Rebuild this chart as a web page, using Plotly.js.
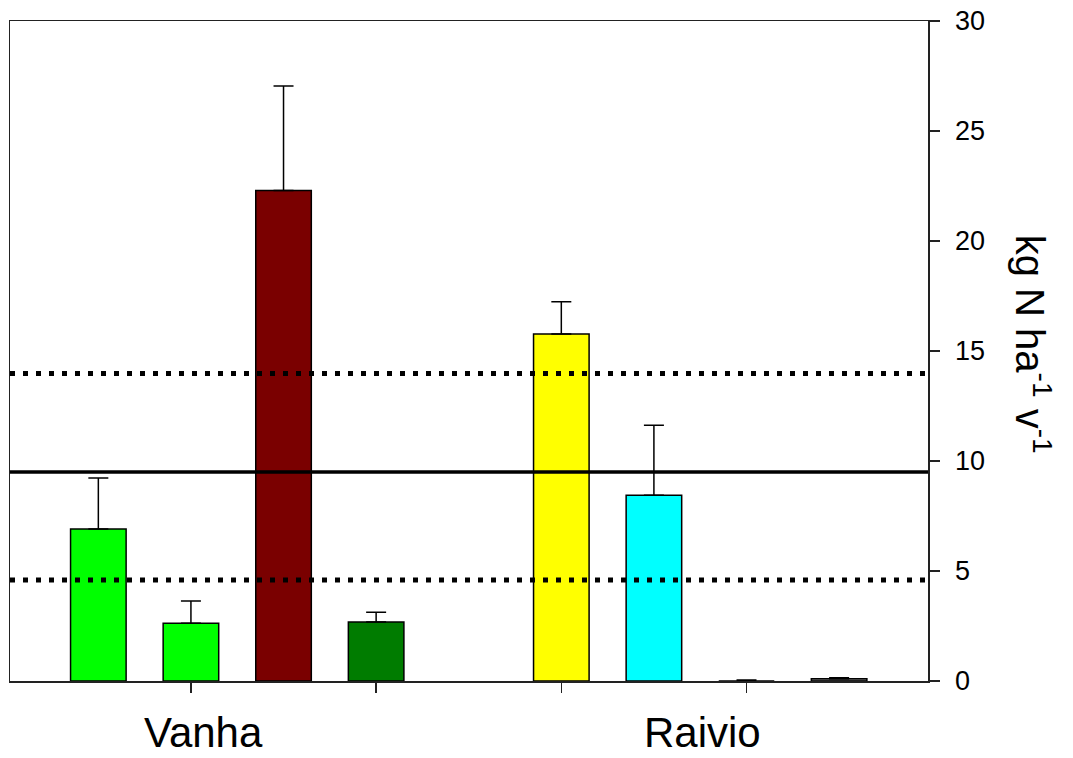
<!DOCTYPE html>
<html>
<head>
<meta charset="utf-8">
<script src="https://cdn.plot.ly/plotly-3.0.1.min.js"></script>
<style>html,body{margin:0;padding:0;background:#fff;}#chart{width:1073px;height:758px;}</style>
</head>
<body>
<div id="chart"></div>
<script>
// ---- data ----
const barSlots   = [0, 1, 2, 3, 5, 6, 7, 8];
const barValues  = [6.91, 2.63, 22.29, 2.68, 15.77, 8.44, 0.0, 0.1];
const errorPlus  = [2.32, 1.01, 4.76, 0.44, 1.47, 3.18, 0.05, 0.05];
const barColors  = ['#00ff00', '#00ff00', '#7a0000', '#007c00', '#ffff00', '#00ffff', '#808080', '#808080'];
const meanLine   = [9.5];
const rangeLines = [4.59, 13.98];
const groupLabels = ['Vanha', 'Raivio'];
const xTickSlots = [1, 3, 5, 7];
const yTicks     = [0, 5, 10, 15, 20, 25, 30];
const yTitle     = 'kg N ha<sup>-1</sup> v<sup>-1</sup>';

const FONT = 'Liberation Sans, Arial, Helvetica, sans-serif';

const trace = {
  type: 'bar',
  x: barSlots,
  y: barValues,
  width: 0.6,
  marker: { color: barColors, line: { color: '#000', width: 1.5 } },
  error_y: {
    type: 'data', symmetric: false,
    array: errorPlus,
    arrayminus: barValues.map(() => 0),
    color: '#000', thickness: 1.5, width: 10
  },
  hoverinfo: 'none'
};

const shapes = [];
meanLine.forEach(v => shapes.push({
  type: 'line', xref: 'paper', x0: 0, x1: 1, yref: 'y', y0: v, y1: v,
  line: { color: '#000', width: 3.5 }
}));
rangeLines.forEach(v => shapes.push({
  type: 'line', xref: 'paper', x0: 0, x1: 1, yref: 'y', y0: v, y1: v,
  line: { color: '#000', width: 5, dash: '5px,8px' }
}));

const groupPos = [1.14, 6.52];
const annotations = groupLabels.map((t, i) => ({
  text: t, x: groupPos[i], xref: 'x', y: -0.0773, yref: 'paper',
  xanchor: 'center', yanchor: 'middle', showarrow: false, borderpad: 0,
  font: { family: FONT, size: 42, color: '#000' }
}));
annotations.push({
  text: yTitle, xref: 'paper', x: 1.114, yref: 'paper', y: 0.51,
  xanchor: 'center', yanchor: 'middle', showarrow: false, textangle: 90,
  font: { family: FONT, size: 40, color: '#000' }
});

const layout = {
  width: 1073, height: 758,
  margin: { l: 10, r: 145, t: 21, b: 77, pad: 0 },
  paper_bgcolor: '#fff', plot_bgcolor: '#fff',
  showlegend: false,
  font: { family: FONT, color: '#000' },
  xaxis: {
    range: [-0.954, 8.96], showgrid: false, zeroline: false,
    showline: true, linecolor: '#222', linewidth: 1.5, mirror: true,
    tickmode: 'array', tickvals: xTickSlots, showticklabels: false,
    ticks: 'outside', ticklen: 10, tickwidth: 1.5, tickcolor: '#222'
  },
  yaxis: {
    side: 'right', range: [0, 30], showgrid: false, zeroline: false,
    showline: true, linecolor: '#222', linewidth: 1.5, mirror: true,
    tickmode: 'array', tickvals: yTicks,
    ticks: 'outside', ticklen: 10, tickwidth: 1.5, tickcolor: '#222',
    tickfont: { family: FONT, size: 27, color: '#000' },
    ticklabelstandoff: 10
  },
  shapes: shapes,
  annotations: annotations
};

Plotly.newPlot('chart', [trace], layout, { displayModeBar: false, staticPlot: true });
</script>
</body>
</html>
